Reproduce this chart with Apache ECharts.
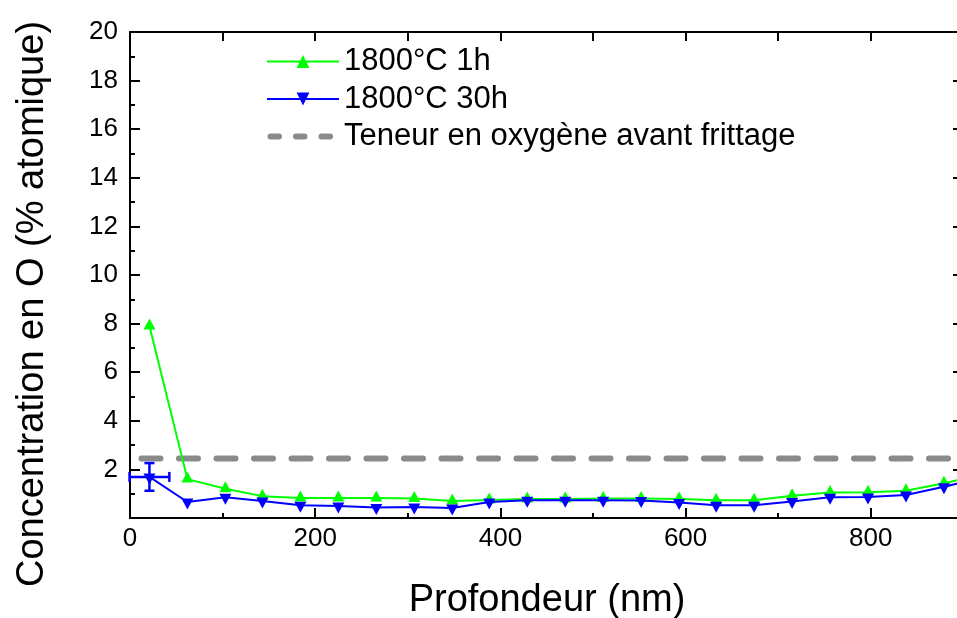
<!DOCTYPE html>
<html><head><meta charset="utf-8">
<script src="https://cdn.jsdelivr.net/npm/echarts@6/dist/echarts.min.js"></script>
<style>html,body{margin:0;padding:0;background:#fff}#c{width:957px;height:618px}</style>
</head><body><div id="c"></div>
<script>
// Depth (nm) of each measurement
const depth = [21, 62, 103, 143, 184, 225, 266, 307, 348, 388, 429, 470, 511, 552, 593, 633, 674, 715, 756, 797, 838, 879, 920];
// Oxygen concentration (% atomic)
const o1h  = [7.9, 1.6, 1.2, 0.9, 0.82, 0.82, 0.82, 0.8, 0.7, 0.74, 0.78, 0.78, 0.8, 0.8, 0.78, 0.73, 0.73, 0.92, 1.05, 1.06, 1.12, 1.43, 1.8];
const o30h = [1.69, 0.66, 0.85, 0.7, 0.52, 0.49, 0.43, 0.45, 0.41, 0.66, 0.73, 0.73, 0.73, 0.72, 0.64, 0.52, 0.52, 0.68, 0.85, 0.86, 0.95, 1.29, 1.65];
// Error bar on first 30h point: [x, y, xErr, yErr]
const err30h = [[21, 1.69, 21.5, 0.57]];
const oxygenBefore = 2.45;
const refLineX = [0, 1000];
const seriesNames = ['1800°C 1h', '1800°C 30h', 'Teneur en oxygène avant frittage'];
const xTitle = 'Profondeur (nm)';
const yTitle = 'Concentration en O (% atomique)';

const FONT = 'Liberation Sans, Arial, sans-serif';
const GREEN = '#00ff00', BLUE = '#0000ff', GREY = '#8a8a8a';
const downTri = 'path://M0,0L20,0L10,18Z';

const chart = echarts.init(document.getElementById('c'), null, {renderer: 'canvas'});
const axisLine = {show: true, onZero: false, lineStyle: {color: '#000', width: 2}};
chart.setOption({
  animation: false,
  backgroundColor: '#fff',
  grid: {left: 130, top: 32, width: 926, height: 486, containLabel: false, outerBoundsMode: 'none'},
  legend: {
    orient: 'vertical', left: 264, top: 46, padding: 0,
    itemWidth: 72, itemHeight: 16, itemGap: 6.5,
    textStyle: {fontFamily: FONT, fontSize: 31, color: '#000'},
    data: [
      {name: seriesNames[0]},
      {name: seriesNames[1]},
      {name: seriesNames[2], itemStyle: {opacity: 0},
       lineStyle: {type: [8.5, 17], dashOffset: 22, width: 6, cap: 'round', color: GREY}}
    ]
  },
  xAxis: [{
    type: 'value', min: 0, max: 1000, interval: 200, position: 'bottom',
    name: xTitle, nameLocation: 'middle', nameGap: 64,
    nameTextStyle: {fontFamily: FONT, fontSize: 38, color: '#000', padding: [0, 92, 0, 0]},
    axisLine: axisLine,
    axisTick: {inside: true, length: 10, lineStyle: {width: 2, color: '#000'}},
    minorTick: {show: true, splitNumber: 2, length: 5, lineStyle: {width: 2, color: '#000'}},
    axisLabel: {margin: 8, fontFamily: FONT, fontSize: 26, color: '#000'},
    splitLine: {show: false}
  }, {
    type: 'value', min: 0, max: 1000, interval: 100, position: 'top',
    axisLine: axisLine,
    axisTick: {inside: true, length: 9, lineStyle: {width: 2, color: '#000'}},
    axisLabel: {show: false}, splitLine: {show: false}
  }],
  yAxis: [{
    type: 'value', min: 0, max: 20, interval: 2, position: 'left',
    name: yTitle, nameLocation: 'middle', nameGap: 78,
    nameTextStyle: {fontFamily: FONT, fontSize: 38, color: '#000', padding: [0, 58, 0, 0]},
    axisLine: axisLine,
    axisTick: {inside: true, length: 10, lineStyle: {width: 2, color: '#000'}},
    minorTick: {show: true, splitNumber: 2, length: 5, lineStyle: {width: 2, color: '#000'}},
    axisLabel: {margin: 12, showMinLabel: false, fontFamily: FONT, fontSize: 26, color: '#000'},
    splitLine: {show: false}
  }, {
    type: 'value', min: 0, max: 20, interval: 2, position: 'right', offset: -93,
    axisLine: axisLine,
    axisTick: {inside: true, length: 10, lineStyle: {width: 2, color: '#000'}},
    minorTick: {show: true, splitNumber: 2, length: 5, lineStyle: {width: 2, color: '#000'}},
    axisLabel: {show: false}, splitLine: {show: false}
  }],
  series: [{
    name: seriesNames[2], type: 'line', xAxisIndex: 0, yAxisIndex: 0,
    data: refLineX.map(x => [x, oxygenBefore]), symbol: 'none', z: 1,
    itemStyle: {color: GREY},
    lineStyle: {color: GREY, width: 6, type: [19, 18.5], dashOffset: 26, cap: 'round'}
  }, {
    name: seriesNames[0], type: 'line', xAxisIndex: 0, yAxisIndex: 0,
    data: depth.map((d, i) => [d, o1h[i]]),
    symbol: 'triangle', symbolSize: [12, 11], symbolOffset: [0, -2], z: 2,
    itemStyle: {color: GREEN}, lineStyle: {color: GREEN, width: 2}
  }, {
    name: seriesNames[1], type: 'line', xAxisIndex: 0, yAxisIndex: 0,
    data: depth.map((d, i) => [d, o30h[i]]),
    symbol: downTri, symbolSize: [12, 11], symbolOffset: [0, 2], z: 3,
    itemStyle: {color: BLUE}, lineStyle: {color: BLUE, width: 2}
  }, {
    type: 'custom', xAxisIndex: 0, yAxisIndex: 0, z: 4, data: err30h,
    renderItem: function (params, api) {
      const x = api.value(0), y = api.value(1), ex = api.value(2), ey = api.value(3);
      const l = api.coord([x - ex, y]), r = api.coord([x + ex, y]);
      const t = api.coord([x, y + ey]), b = api.coord([x, y - ey]);
      const cap = 5;
      const st = {stroke: BLUE, lineWidth: 2.5, fill: null};
      return {type: 'group', children: [
        {type: 'line', shape: {x1: l[0], y1: l[1], x2: r[0], y2: r[1]}, style: st},
        {type: 'line', shape: {x1: l[0], y1: l[1] - cap, x2: l[0], y2: l[1] + cap}, style: st},
        {type: 'line', shape: {x1: r[0], y1: r[1] - cap, x2: r[0], y2: r[1] + cap}, style: st},
        {type: 'line', shape: {x1: t[0], y1: t[1], x2: b[0], y2: b[1]}, style: st},
        {type: 'line', shape: {x1: t[0] - cap, y1: t[1], x2: t[0] + cap, y2: t[1]}, style: st},
        {type: 'line', shape: {x1: b[0] - cap, y1: b[1], x2: b[0] + cap, y2: b[1]}, style: st}
      ]};
    }
  }]
});
</script></body></html>
